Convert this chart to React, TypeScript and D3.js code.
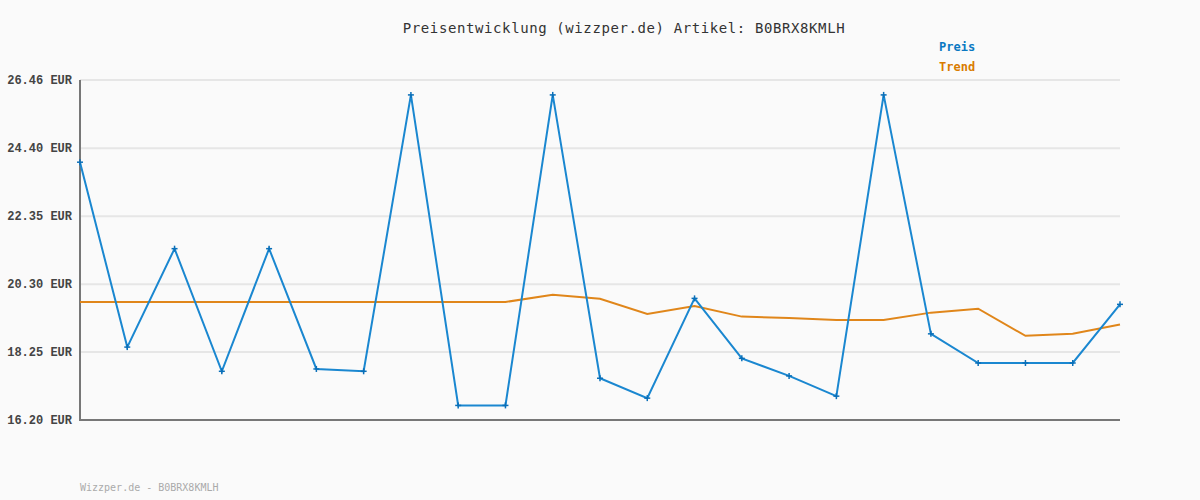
import React from "react";
import * as d3 from "d3";

const title = "Preisentwicklung (wizzper.de) Artikel: B0BRX8KMLH";
const footer = "Wizzper.de - B0BRX8KMLH";
const seriesNames = ["Preis", "Trend"];

// Price per observation (EUR)
const preis = [
  23.98, 18.4, 21.37, 17.67, 21.37, 17.74, 17.67, 26.01, 16.64, 16.64, 26.01, 17.46,
  16.86, 19.87, 18.06, 17.53, 16.92, 26.01, 18.8, 17.92, 17.92, 17.92, 19.69,
];
// Trend line (EUR)
const trend = [
  19.76, 19.76, 19.76, 19.76, 19.76, 19.76, 19.76, 19.76, 19.76, 19.76, 19.98, 19.86,
  19.4, 19.64, 19.32, 19.28, 19.22, 19.22, 19.44, 19.56, 18.74, 18.8, 19.08,
];
const yTicks = [16.2, 18.25, 20.3, 22.35, 24.4, 26.46];
const yTickLabels = ["16.20 EUR", "18.25 EUR", "20.30 EUR", "22.35 EUR", "24.40 EUR", "26.46 EUR"];

const W = 1200;
const H = 500;
const left = 80;
const right = 1120;
const top = 80;
const bottom = 420;

const BLUE = "#1a87d0";
const BLUE_DARK = "#0a6fb8";
const ORANGE = "#e0861a";

export default function App() {
  const x = d3.scaleLinear().domain([0, preis.length - 1]).range([left, right]);
  const y = d3.scaleLinear().domain([16.2, 26.46]).range([bottom, top]);
  const line = d3
    .line<number>()
    .x((_, i) => x(i))
    .y((d) => y(d));

  return (
    <svg
      width={W}
      height={H}
      style={{ position: "absolute", left: 0, top: 0, background: "#fafafa" }}
    >
      <rect x={0} y={0} width={W} height={H} fill="#fafafa" />
      <text
        x={624}
        y={33}
        textAnchor="middle"
        fontFamily="'DejaVu Sans Mono', monospace"
        fontSize={14}
        letterSpacing={0.6}
        fill="#333"
      >
        {title}
      </text>
      <text
        x={939}
        y={51}
        fontFamily="'DejaVu Sans Mono', monospace"
        fontSize={12}
        fontWeight="bold"
        fill="#0a78c2"
      >
        {seriesNames[0]}
      </text>
      <text
        x={939}
        y={71}
        fontFamily="'DejaVu Sans Mono', monospace"
        fontSize={12}
        fontWeight="bold"
        fill="#d97c00"
      >
        {seriesNames[1]}
      </text>

      {yTicks.map((t, i) => (
        <g key={t}>
          {i > 0 && (
            <line x1={left} x2={right} y1={y(t)} y2={y(t)} stroke="#e6e6e6" strokeWidth={2} />
          )}
          <text
            x={72}
            y={y(t) + 4}
            textAnchor="end"
            fontFamily="'Liberation Mono', monospace"
            fontSize={12}
            fontWeight="bold"
            fill="#444"
          >
            {yTickLabels[i]}
          </text>
        </g>
      ))}

      <line x1={left} x2={left} y1={top} y2={bottom} stroke="#777" strokeWidth={2} />
      <line x1={left - 1} x2={right} y1={bottom} y2={bottom} stroke="#777" strokeWidth={2} />

      <path d={line(trend) ?? ""} fill="none" stroke={ORANGE} strokeWidth={2} />
      <path d={line(preis) ?? ""} fill="none" stroke={BLUE} strokeWidth={2} />
      {preis.map((v, i) => (
        <g key={i} stroke={BLUE_DARK} strokeWidth={1.5}>
          <line x1={x(i) - 3} x2={x(i) + 3} y1={y(v)} y2={y(v)} />
          <line x1={x(i)} x2={x(i)} y1={y(v) - 3} y2={y(v) + 3} />
        </g>
      ))}

      <text
        x={80}
        y={491}
        fontFamily="'DejaVu Sans Mono', monospace"
        fontSize={10}
        fill="#aaa"
      >
        {footer}
      </text>
    </svg>
  );
}
